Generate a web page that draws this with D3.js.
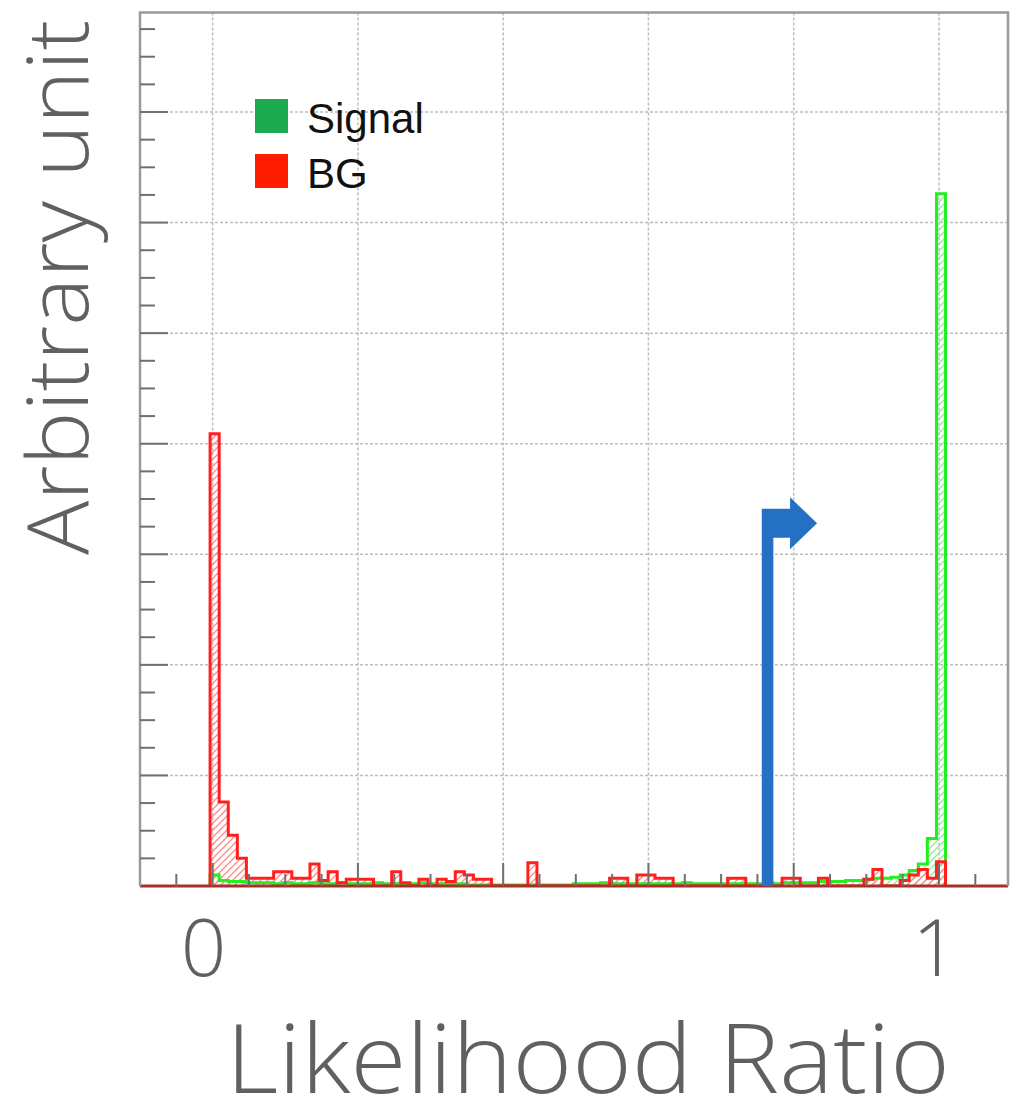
<!DOCTYPE html>
<html>
<head>
<meta charset="utf-8">
<script src="https://cdn.jsdelivr.net/npm/d3@7"></script>
<style>
  html, body { margin: 0; padding: 0; background: #fff; }
  svg { display: block; }
</style>
</head>
<body>
<svg id="chart" width="1010" height="1100"></svg>
<script>
// Binning of the likelihood-ratio histograms
const binStart = -0.0035;
const binWidth = 0.0125;

// Signal histogram contents (arbitrary units)
const signalCounts = [
  0.10, 0.05, 0.04, 0.04, 0.03, 0.03,
  0.03, 0.02, 0.03, 0.02, 0.02, 0.03, 0.02, 0.02, 0.03, 0.02,
  0.02, 0.02, 0.03, 0.02, 0.02, 0.02, 0.02, 0.03, 0.02, 0.02,
  0.02, 0.02, 0.01, 0.01, 0.01, 0.01, 0.01, 0.01, 0.01, 0.01,
  0.01, 0.01, 0.01, 0.01, 0.02, 0.02, 0.02, 0.03, 0.02, 0.02,
  0.02, 0.02, 0.02, 0.02, 0.02, 0.02, 0.03, 0.02, 0.02, 0.02,
  0.02, 0.02, 0.02, 0.02, 0.02, 0.03, 0.02, 0.03, 0.03, 0.03,
  0.03, 0.04, 0.04, 0.04, 0.05,
  0.05, 0.06, 0.07, 0.07, 0.08, 0.10, 0.14, 0.20, 0.43, 6.26
];

// Background histogram contents (arbitrary units)
const bgCounts = [
  4.09, 0.76, 0.46, 0.25, 0.07, 0.07, 0.07, 0.13, 0.13, 0.07,
  0.07, 0.20, 0.05, 0.13, 0.03, 0.06, 0.06, 0.06, 0.00, 0.00,
  0.13, 0.03, 0.00, 0.06, 0.00, 0.06, 0.04, 0.13, 0.10, 0.06,
  0.06, 0.00, 0.00, 0.00, 0.00, 0.21, 0.00, 0.00, 0.00, 0.00,
  0.00, 0.00, 0.00, 0.00, 0.07, 0.07, 0.00, 0.10, 0.10, 0.07,
  0.07, 0.00, 0.00, 0.00, 0.00, 0.00, 0.00, 0.07, 0.07, 0.00,
  0.00, 0.00, 0.00, 0.07, 0.07, 0.00, 0.00, 0.07, 0.00, 0.00,
  0.00, 0.00, 0.06, 0.15, 0.00, 0.00, 0.05, 0.10, 0.15, 0.07,
  0.22
];

// Axis labels and legend entries
const xTickLabels = [{ value: 0, text: "0" }, { value: 1, text: "1" }];
const xTitle = "Likelihood Ratio";
const yTitle = "Arbitrary unit";
const legendEntries = [
  { name: "Signal", color: "#1daa4f" },
  { name: "BG", color: "#ff1d00" }
];

// Selection cut on the likelihood ratio and the height of its marker arrow
const cutValue = 0.764;
const cutArrowLevel = 3.28;

const xDomain = [-0.1, 1.095];
const yDomain = [0, 7.9];

const svg = d3.select("#chart");
const frame = { left: 140, right: 1008, top: 12.5, bottom: 886 };

const x = d3.scaleLinear().domain(xDomain).range([frame.left, frame.right]);
const y = d3.scaleLinear().domain(yDomain).range([frame.bottom, frame.top]);

const defs = svg.append("defs");
function hatch(id, color) {
  const p = defs.append("pattern")
    .attr("id", id)
    .attr("patternUnits", "userSpaceOnUse")
    .attr("width", 7).attr("height", 7);
  p.append("path")
    .attr("d", "M-1.75,1.75 l3.5,-3.5 M0,7 l7,-7 M5.25,8.75 l3.5,-3.5")
    .attr("stroke", color).attr("stroke-width", 1.3).attr("fill", "none");
}
hatch("hatchRed", "#ff8a8a");
hatch("hatchGreen", "#8af08a");

defs.append("clipPath").attr("id", "plotClip")
  .append("rect")
  .attr("x", frame.left).attr("y", frame.top)
  .attr("width", frame.right - frame.left).attr("height", frame.bottom - frame.top);

// Grid (dotted) at major divisions
const xGrid = d3.range(0, 1.0001, 0.2);
const yGrid = d3.range(1, 8, 1);
const grid = svg.append("g").attr("stroke", "#bdbdbd").attr("stroke-width", 1.5)
  .attr("stroke-dasharray", "3,2");
grid.selectAll("line.v").data(xGrid).join("line").attr("class", "v")
  .attr("x1", d => x(d)).attr("x2", d => x(d))
  .attr("y1", frame.top).attr("y2", frame.bottom);
grid.selectAll("line.h").data(yGrid).join("line").attr("class", "h")
  .attr("y1", d => y(d)).attr("y2", d => y(d))
  .attr("x1", frame.left).attr("x2", frame.right);

// Step outline of a histogram
function stepPoints(counts) {
  const pts = [[binStart, 0]];
  counts.forEach((v, i) => {
    const lo = binStart + i * binWidth;
    pts.push([lo, v], [lo + binWidth, v]);
  });
  pts.push([binStart + counts.length * binWidth, 0]);
  return pts;
}
const line = d3.line().x(d => x(d[0])).y(d => y(d[1]));

const hist = svg.append("g").attr("clip-path", "url(#plotClip)");
const sigPts = stepPoints(signalCounts);
const bgPts = stepPoints(bgCounts);

hist.append("path").attr("d", line(sigPts) + "Z").attr("fill", "url(#hatchGreen)");
hist.append("path").attr("d", line(bgPts) + "Z").attr("fill", "url(#hatchRed)");
hist.append("path").attr("d", line(sigPts)).attr("fill", "none")
  .attr("stroke", "#22ee22").attr("stroke-width", 3).attr("stroke-linejoin", "miter");
hist.append("path").attr("d", line(bgPts)).attr("fill", "none")
  .attr("stroke", "#ff1f1f").attr("stroke-width", 3).attr("stroke-linejoin", "miter");

// Zero line
svg.append("line")
  .attr("x1", frame.left).attr("x2", frame.right)
  .attr("y1", y(0)).attr("y2", y(0))
  .attr("stroke", "#a8302b").attr("stroke-width", 3);

// Frame
svg.append("path")
  .attr("d", `M${frame.left},${frame.bottom} V${frame.top} H${frame.right} V${frame.bottom}`)
  .attr("fill", "none").attr("stroke", "#9a9a9a").attr("stroke-width", 2.5);

// Axis ticks pointing into the frame
const xMinor = d3.range(-0.05, 1.0901, 0.05).map(v => Math.round(v * 100) / 100);
const ticks = svg.append("g").attr("stroke", "#6f6f6f").attr("stroke-width", 2);
ticks.selectAll("line.xt").data(xMinor).join("line").attr("class", "xt")
  .attr("x1", d => x(d)).attr("x2", d => x(d))
  .attr("y1", frame.bottom)
  .attr("y2", d => frame.bottom - (Math.abs(d / 0.2 - Math.round(d / 0.2)) < 1e-6 ? 23 : 12));
const yMinor = d3.range(0.25, 7.9, 0.25);
ticks.selectAll("line.yt").data(yMinor).join("line").attr("class", "yt")
  .attr("y1", d => y(d)).attr("y2", d => y(d))
  .attr("x1", frame.left)
  .attr("x2", d => frame.left + (Math.abs(d - Math.round(d)) < 1e-6 ? 28 : 15));

// Cut marker arrow
const cx = x(cutValue), cy = y(cutArrowLevel);
const arrow = [
  [cx - 5.8, y(0)], [cx - 5.8, cy - 14.5], [cx + 22.5, cy - 14.5], [cx + 22.5, cy - 26],
  [cx + 49.5, cy], [cx + 22.5, cy + 26], [cx + 22.5, cy + 14.5], [cx + 5.8, cy + 14.5],
  [cx + 5.8, y(0)]
];
svg.append("path").attr("d", d3.line()(arrow) + "Z").attr("fill", "#2470c2");

// Legend
const legend = svg.append("g");
legendEntries.forEach((e, i) => {
  const gy = 99 + i * 55;
  legend.append("rect").attr("x", 255).attr("y", gy).attr("width", 33).attr("height", 34)
    .attr("fill", e.color);
  legend.append("text").attr("x", 307).attr("y", gy + 34)
    .attr("font-family", "'Liberation Sans', Arial, sans-serif").attr("font-size", 42)
    .attr("fill", "#111").text(e.name);
});

// Tick labels and axis titles
const labelFont = "'Open Sans', 'Noto Sans', Lato, sans-serif";
svg.append("g").selectAll("text").data(xTickLabels).join("text")
  .attr("x", d => x(d.value) + (d.value === 0 ? -9 : -4)).attr("y", 976)
  .attr("text-anchor", "middle")
  .attr("font-family", labelFont).attr("font-weight", 300).attr("font-size", 80)
  .attr("fill", "#606060").text(d => d.text);

svg.append("text").attr("x", 226).attr("y", 1093)
  .attr("font-family", labelFont).attr("font-weight", 300).attr("font-size", 96)
  .attr("textLength", 724).attr("lengthAdjust", "spacingAndGlyphs")
  .attr("fill", "#606060").text(xTitle);

svg.append("text").attr("transform", "translate(88,555) rotate(-90)")
  .attr("font-family", labelFont).attr("font-weight", 300).attr("font-size", 85)
  .attr("textLength", 535).attr("lengthAdjust", "spacingAndGlyphs")
  .attr("fill", "#606060").text(yTitle);
</script>
</body>
</html>
